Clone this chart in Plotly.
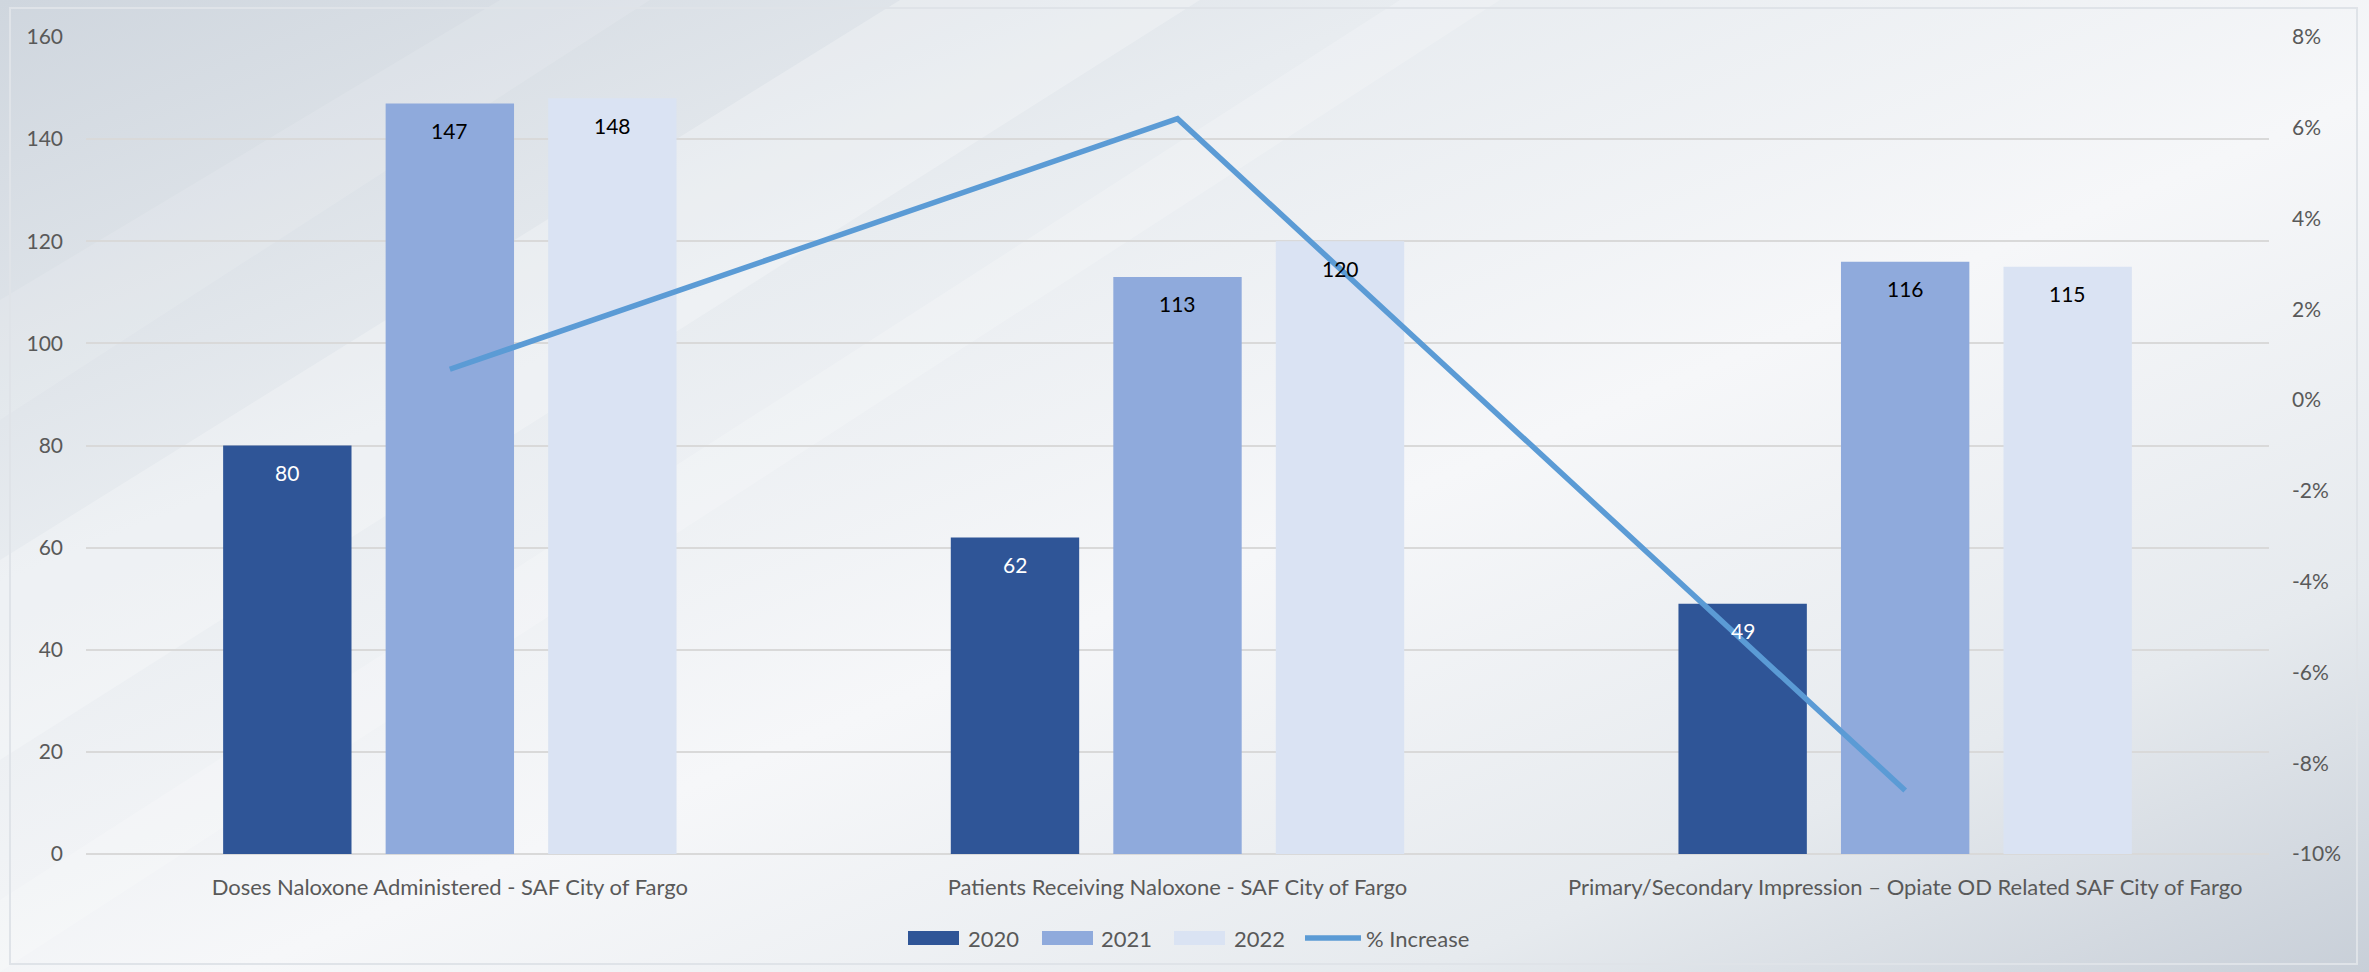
import base64
import plotly.graph_objects as go

categories = [
    "Doses Naloxone Administered - SAF City of Fargo",
    "Patients Receiving Naloxone - SAF City of Fargo",
    "Primary/Secondary Impression \u2013 Opiate OD Related SAF City of Fargo",
]
series_names = ["2020", "2021", "2022"]
vals_2020 = [80, 62, 49]
vals_2021 = [147, 113, 116]
vals_2022 = [148, 120, 115]
pct_increase = [0.0068, 0.062, -0.086]
line_name = "% Increase"
y2_tickvals = [-0.10, -0.08, -0.06, -0.04, -0.02, 0.0, 0.02, 0.04, 0.06, 0.08]
y2_ticktext = ["-10%", "-8%", "-6%", "-4%", "-2%", "0%", "2%", "4%", "6%", "8%"]

W, H = 2369, 972
ML, MR, MT, MB = 86, 100, 37, 118
PW, PH = W - ML - MR, H - MT - MB
BARGAP, GROUPGAP = 0.33, 0.21

colors = ["#2F5597", "#8FAADC", "#DAE3F3"]
label_colors = ["white", "black", "black"]
line_color = "#5B9BD5"
FONT = "Lato, 'Open Sans', sans-serif"
TXT = "#595959"

svg = f'''<svg xmlns="http://www.w3.org/2000/svg" width="{W}" height="{H}" viewBox="0 0 {W} {H}">
<defs>
<linearGradient id="g" x1="0" y1="0" x2="1" y2="1">
<stop offset="0" stop-color="#cfd6de"/>
<stop offset="0.3" stop-color="#e8ecf0"/>
<stop offset="0.55" stop-color="#f6f7f9"/>
<stop offset="0.8" stop-color="#e6eaee"/>
<stop offset="1" stop-color="#c8cfd8"/>
</linearGradient>
</defs>
<rect width="{W}" height="{H}" fill="url(#g)"/>
<polygon points="0,560 900,0 1200,0 0,760" fill="#ffffff" fill-opacity="0.25"/>
<polygon points="0,900 1400,0 1500,0 0,972" fill="#ffffff" fill-opacity="0.2"/>
<polygon points="0,300 500,0 650,0 0,420" fill="#ffffff" fill-opacity="0.12"/>
<rect x="10" y="8" width="{W-22}" height="{H-16}" fill="none" stroke="#dfe3e8" stroke-width="2"/>
</svg>'''
bg_uri = "data:image/svg+xml;base64," + base64.b64encode(svg.encode()).decode()

all_vals = [vals_2020, vals_2021, vals_2022]

fig = go.Figure()
for name, vals, col in zip(series_names, all_vals, colors):
    fig.add_trace(go.Bar(name=name, x=categories, y=vals, marker_color=col,
                         marker_line_width=0, showlegend=False))
fig.add_trace(go.Scatter(
    name=line_name, x=categories, y=pct_increase, yaxis="y2",
    mode="lines", line=dict(color=line_color, width=5.5), showlegend=False,
))

# data labels: centred on each bar of the group, just below its top
slot_px = PW / len(categories) * (1 - BARGAP) / len(series_names)
annotations = []
for i, (vals, lc) in enumerate(zip(all_vals, label_colors)):
    for cat, v in zip(categories, vals):
        annotations.append(dict(
            x=cat, y=v, xref="x", yref="y", text=str(v), showarrow=False,
            xshift=(i - 1) * slot_px, yshift=-27, yanchor="middle",
            font=dict(family=FONT, size=21, color=lc),
        ))

# custom legend (paper coordinates from pixel layout)
def px_x(p):
    return (p - ML) / PW

def px_y(p):
    return (H - MB - p) / PH

shapes = []
leg_y = 938
leg_items = [(908, 966, "rect", colors[0], series_names[0]),
             (1042, 1099, "rect", colors[1], series_names[1]),
             (1174, 1232, "rect", colors[2], series_names[2]),
             (1305, 1364, "line", line_color, line_name)]
for x0, tx, kind, col, label in leg_items:
    if kind == "rect":
        shapes.append(dict(type="rect", xref="paper", yref="paper",
                           x0=px_x(x0), x1=px_x(x0 + 51), y0=px_y(leg_y - 7), y1=px_y(leg_y + 7),
                           fillcolor=col, line=dict(width=0), layer="above"))
    else:
        shapes.append(dict(type="line", xref="paper", yref="paper",
                           x0=px_x(x0), x1=px_x(x0 + 56), y0=px_y(leg_y), y1=px_y(leg_y),
                           line=dict(color=col, width=5.5), layer="above"))
    annotations.append(dict(x=px_x(tx), y=px_y(leg_y), xref="paper", yref="paper",
                            text=label, showarrow=False, xanchor="left", yanchor="middle",
                            font=dict(family=FONT, size=22, color=TXT)))

fig.update_layout(
    width=W, height=H,
    margin=dict(l=ML, r=MR, t=MT, b=MB),
    paper_bgcolor="#eef1f4",
    plot_bgcolor="rgba(0,0,0,0)",
    barmode="group", bargap=BARGAP, bargroupgap=GROUPGAP,
    font=dict(family=FONT, size=21, color=TXT),
    showlegend=False,
    images=[dict(source=bg_uri, xref="paper", yref="paper",
                 x=-ML / PW, y=1 + MT / PH, sizex=W / PW, sizey=H / PH,
                 xanchor="left", yanchor="top", sizing="stretch", layer="below")],
    xaxis=dict(showgrid=False, showline=False, ticks="",
               tickfont=dict(size=22, color=TXT), ticklabelstandoff=18),
    yaxis=dict(range=[0, 160], dtick=20, showgrid=True, gridcolor="#d9d9d9",
               gridwidth=1.5, zeroline=True, zerolinecolor="#d9d9d9", zerolinewidth=1.5,
               tickfont=dict(size=21, color=TXT), ticklabelstandoff=22),
    yaxis2=dict(range=[-0.10, 0.08], tickvals=y2_tickvals, ticktext=y2_ticktext,
                overlaying="y", side="right", showgrid=False, zeroline=False,
                tickfont=dict(size=21, color=TXT), ticklabelstandoff=22),
    shapes=shapes,
    annotations=annotations,
)

fig.write_html("out.html", config={"displayModeBar": False},
               post_script="document.body.style.margin='0';document.body.style.overflow='hidden';")
